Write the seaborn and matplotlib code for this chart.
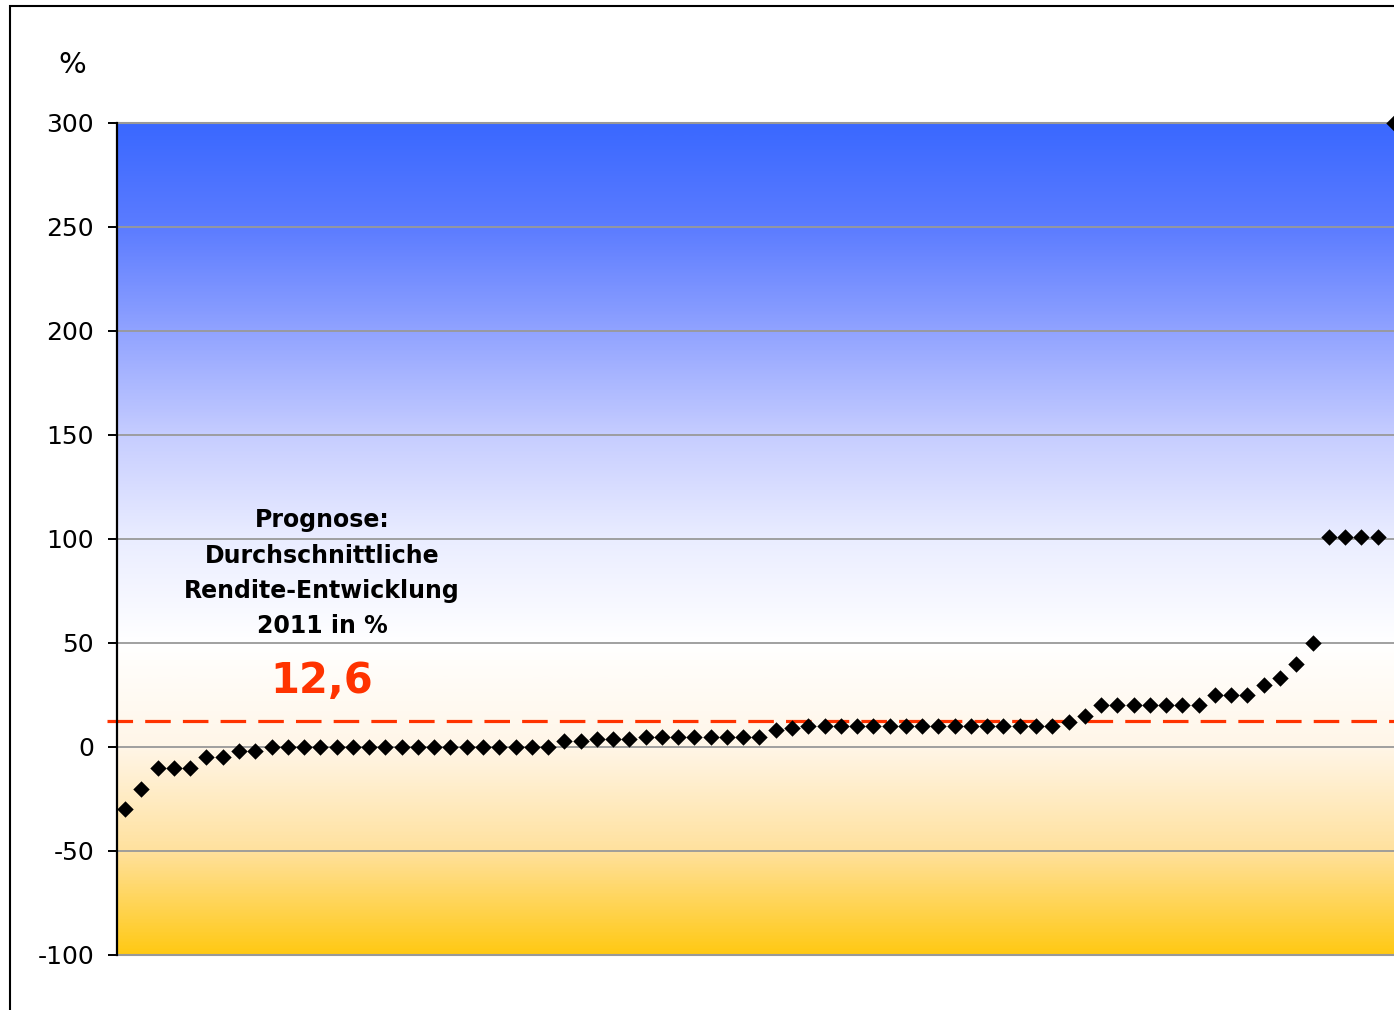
import numpy as np
import pandas as pd
import matplotlib
matplotlib.use("Agg")
import matplotlib.pyplot as plt
from matplotlib.colors import LinearSegmentedColormap
from matplotlib.patches import Rectangle
import seaborn as sns

# Forecast returns per fund, sorted ascending (%)
renditen = [
    -30, -20, -10, -10, -10, -5, -5, -2, -2,
    0, 0, 0, 0, 0, 0, 0, 0, 0, 0, 0, 0, 0, 0, 0, 0, 0, 0,
    3, 3, 4, 4, 4,
    5, 5, 5, 5, 5, 5, 5, 5,
    8, 9,
    10, 10, 10, 10, 10, 10, 10, 10, 10, 10, 10, 10, 10, 10, 10, 10,
    12, 15,
    20, 20, 20, 20, 20, 20, 20,
    25, 25, 25,
    30, 33, 40, 50,
    101, 101, 101, 101,
    300,
]
durchschnitt = 12.6
y_ticks = [-100, -50, 0, 50, 100, 150, 200, 250, 300]
titel = "Prognose:\nDurchschnittliche\nRendite-Entwicklung\n2011 in %"
wert_text = "12,6"

df = pd.DataFrame({"fonds": np.arange(len(renditen)), "rendite": renditen})

plt.rcParams["font.family"] = ["DejaVu Sans"]
plt.rcParams["axes.unicode_minus"] = False

W, H = 1394, 1010
fig = plt.figure(figsize=(W / 100, H / 100), dpi=100)
ax = fig.add_axes([117 / W, 1 - 955 / H, 1285 / W, 832 / H])

n = len(renditen)
x0, x1 = -0.5, n - 0.5
y0, y1 = -100, 300

# Vertical background gradient: gold at the bottom, white near 50, blue at the top
stops = [
    (0.0, "#FFC914"),
    (0.125, "#FFE19E"),
    (0.25, "#FFF6E8"),
    (0.375, "#FFFFFF"),
    (0.5, "#EAEDFF"),
    (0.625, "#C6CDFF"),
    (0.75, "#91A3FF"),
    (0.875, "#5C7CFF"),
    (1.0, "#3A68FF"),
]
cmap = LinearSegmentedColormap.from_list("bg", stops)
grad = np.linspace(0, 1, 512).reshape(-1, 1)
ax.imshow(grad, cmap=cmap, origin="lower", aspect="auto",
          extent=[x0, x1, y0, y1], zorder=0, interpolation="bilinear")

ax.set_xlim(x0, x1)
ax.set_ylim(y0, y1)
ax.set_yticks(y_ticks)
ax.set_xticks([])
ax.set_axisbelow(True)
ax.yaxis.grid(True, color="#999999", linewidth=1.3, zorder=0.5)

sns.scatterplot(data=df, x="fonds", y="rendite", marker="D", color="black",
                s=70, linewidth=0, ax=ax, zorder=5, clip_on=False, legend=False)

ax.axhline(durchschnitt, xmin=-0.0078, xmax=1, color="#FF3300", linewidth=2.3,
           dashes=(8, 3.8), clip_on=False, zorder=4)

ax.set_xlabel("")
ax.set_ylabel("")

for side in ["top", "bottom"]:
    ax.spines[side].set_color("#999999")
    ax.spines[side].set_linewidth(1.5)
ax.spines["right"].set_visible(False)
ax.spines["left"].set_color("black")
ax.spines["left"].set_linewidth(1.6)
ax.spines["left"].set_zorder(6)

ax.tick_params(axis="y", direction="out", length=6.5, width=1.4, color="black",
               pad=10, labelsize=18, labelcolor="black")

ax.text(12.1, 83.5, titel, ha="center", va="center", fontsize=17,
        fontweight="bold", linespacing=1.6, color="black", zorder=6)
ax.text(12.1, 26, wert_text, ha="center", va="baseline", fontsize=30,
        fontweight="bold", color="#FF3300", zorder=6)

fig.text(72 / W, 1 - 65 / H, "%", ha="center", va="center", fontsize=21)

# Outer chart frame
fig.add_artist(Rectangle((10 / W, -0.1), 1.2, 1.1 - 6 / H, transform=fig.transFigure,
                         fill=False, edgecolor="black", linewidth=1.5))

fig.savefig("out.png", dpi=100)
